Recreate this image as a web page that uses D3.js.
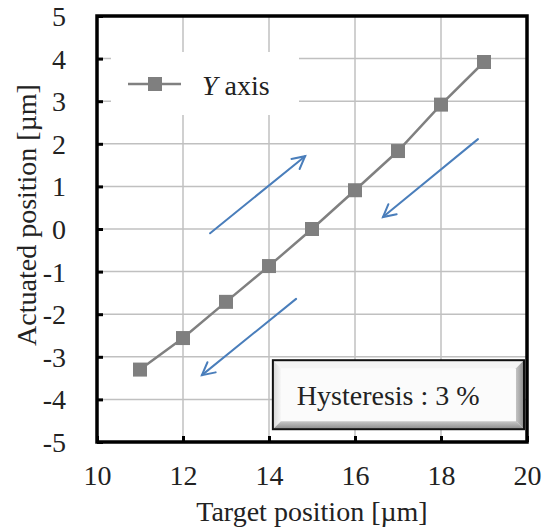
<!DOCTYPE html>
<html>
<head>
<meta charset="utf-8">
<script src="https://cdn.jsdelivr.net/npm/d3@7"></script>
<style>
  html, body { margin: 0; padding: 0; background: #fff; }
  svg { display: block; }
  svg text { font-family: "Liberation Serif", "Times New Roman", "DejaVu Serif", serif; fill: #222; }
</style>
</head>
<body>
<svg id="chart" width="542" height="532"></svg>
<script>
// Target positions (µm) and measured actuated positions (µm)
const targetPos = [11, 12, 13, 14, 15, 16, 17, 18, 19];
const actuatedPos = [-3.3, -2.56, -1.71, -0.87, 0.0, 0.91, 1.83, 2.92, 3.92];

const xTicks = [10, 12, 14, 16, 18, 20];
const yTicks = [-5, -4, -3, -2, -1, 0, 1, 2, 3, 4, 5];

const seriesName = "axis";
const seriesAxis = "Y";
const annotationText = "Hysteresis : 3 %";

// Direction arrows, in data units: [x0, y0, x1, y1]
const arrows = [
  [12.63, -0.1, 14.84, 1.71],
  [18.86, 2.11, 16.65, 0.28],
  [14.63, -1.64, 12.44, -3.43]
];

const svg = d3.select("#chart");
const plotLeft = 97, plotRight = 527, plotTop = 16, plotBottom = 442;
const fontSize = 28;

const x = d3.scaleLinear().domain([10, 20]).range([plotLeft, plotRight]);
const y = d3.scaleLinear().domain([-5, 5]).range([plotBottom, plotTop]);

// Grid
const grid = svg.append("g").attr("stroke", "#c0c0c0").attr("stroke-width", 1.5);
grid.selectAll("line.h").data(yTicks.filter(d => d > -5 && d < 5)).join("line")
  .attr("x1", plotLeft).attr("x2", plotRight)
  .attr("y1", d => y(d)).attr("y2", d => y(d));
grid.selectAll("line.v").data(xTicks.filter(d => d > 10 && d < 20)).join("line")
  .attr("y1", plotTop).attr("y2", plotBottom)
  .attr("x1", d => x(d)).attr("x2", d => x(d));

// Axes with inward ticks; labels use a plain hyphen for negatives
const fmt = d => String(d);
const yAxis = d3.axisLeft(y).tickValues(yTicks).tickSize(-6).tickPadding(31).tickFormat(fmt);
const xAxis = d3.axisBottom(x).tickValues(xTicks).tickSize(-6).tickPadding(37).tickFormat(fmt);

const gy = svg.append("g").attr("transform", `translate(${plotLeft},0)`).call(yAxis);
const gx = svg.append("g").attr("transform", `translate(0,${plotBottom})`).call(xAxis);
[gy, gx].forEach(g => {
  g.attr("font-family", null).attr("font-size", null);
  g.select(".domain").remove();
  g.selectAll(".tick line").attr("stroke", "#000").attr("stroke-width", 3);
  g.selectAll(".tick text").attr("font-size", fontSize).attr("fill", "#222");
});
gy.selectAll(".tick text").attr("x", -31).attr("dy", "0.34em");
gx.selectAll(".tick text").attr("y", 43).attr("dy", 0);

// Legend background and entry
svg.append("rect").attr("x", 111).attr("y", 52).attr("width", 188).attr("height", 63).attr("fill", "#fff");
svg.append("line").attr("x1", 128).attr("x2", 181).attr("y1", 84).attr("y2", 84)
  .attr("stroke", "#808080").attr("stroke-width", 2.5);
svg.append("rect").attr("x", 148).attr("y", 77).attr("width", 14).attr("height", 14).attr("fill", "#7f7f7f");
const lt = svg.append("text").attr("x", 202).attr("y", 95).attr("font-size", fontSize);
lt.append("tspan").attr("font-style", "italic").text(seriesAxis);
lt.append("tspan").text(" " + seriesName);

// Hysteresis bevel box
const bx0 = x(14.09), bx1 = x(19.93), by0 = y(-3.08), by1 = y(-4.7);
const bev = 8;
const defs = svg.append("defs");
const gB = defs.append("linearGradient").attr("id", "bevB").attr("x1", 0).attr("y1", 0).attr("x2", 0).attr("y2", 1);
gB.append("stop").attr("offset", 0).attr("stop-color", "#c8c8c8");
gB.append("stop").attr("offset", 1).attr("stop-color", "#8a8a8a");
const gR = defs.append("linearGradient").attr("id", "bevR").attr("x1", 0).attr("y1", 0).attr("x2", 1).attr("y2", 0);
gR.append("stop").attr("offset", 0).attr("stop-color", "#c4c4c4");
gR.append("stop").attr("offset", 1).attr("stop-color", "#8c8c8c");
const gL = defs.append("linearGradient").attr("id", "bevL").attr("x1", 0).attr("y1", 0).attr("x2", 1).attr("y2", 0);
gL.append("stop").attr("offset", 0).attr("stop-color", "#d6d6d6");
gL.append("stop").attr("offset", 1).attr("stop-color", "#f6f6f6");

const box = svg.append("g");
box.append("rect").attr("x", bx0).attr("y", by0).attr("width", bx1 - bx0).attr("height", by1 - by0).attr("fill", "#fbfbfb");
const poly = pts => pts.map(p => p.join(",")).join(" ");
box.append("polygon").attr("points", poly([[bx0, by0], [bx1, by0], [bx1 - bev, by0 + bev], [bx0 + bev, by0 + bev]])).attr("fill", "#f4f4f4");
box.append("polygon").attr("points", poly([[bx0, by0], [bx0 + bev, by0 + bev], [bx0 + bev, by1 - bev], [bx0, by1]])).attr("fill", "url(#bevL)");
box.append("polygon").attr("points", poly([[bx0, by1], [bx0 + bev, by1 - bev], [bx1 - bev, by1 - bev], [bx1, by1]])).attr("fill", "url(#bevB)");
box.append("polygon").attr("points", poly([[bx1, by0], [bx1 - bev, by0 + bev], [bx1 - bev, by1 - bev], [bx1, by1]])).attr("fill", "url(#bevR)");
box.append("rect").attr("x", bx0).attr("y", by0).attr("width", bx1 - bx0).attr("height", by1 - by0)
  .attr("fill", "none").attr("stroke", "#111").attr("stroke-width", 2);
box.append("text").attr("x", bx0 + 24).attr("y", (by0 + by1) / 2 + 10.5).attr("font-size", fontSize).text(annotationText);

// Direction arrows
const arrowColor = "#4a7ebb";
const ag = svg.append("g").attr("stroke", arrowColor).attr("stroke-width", 2).attr("fill", "none").attr("stroke-linecap", "round");
arrows.forEach(([a, b, c, d]) => {
  const X0 = x(a), Y0 = y(b), X1 = x(c), Y1 = y(d);
  ag.append("line").attr("x1", X0).attr("y1", Y0).attr("x2", X1).attr("y2", Y1);
  const ang = Math.atan2(Y1 - Y0, X1 - X0);
  const len = 14, spread = Math.PI / 6.5;
  const h1 = [X1 - len * Math.cos(ang - spread), Y1 - len * Math.sin(ang - spread)];
  const h2 = [X1 - len * Math.cos(ang + spread), Y1 - len * Math.sin(ang + spread)];
  ag.append("polyline").attr("points", poly([h1, [X1, Y1], h2]));
});

// Data series
const line = d3.line().x((d, i) => x(targetPos[i])).y(d => y(d));
svg.append("path").datum(actuatedPos).attr("d", line)
  .attr("fill", "none").attr("stroke", "#808080").attr("stroke-width", 2.5);
svg.selectAll("rect.pt").data(actuatedPos).join("rect").attr("class", "pt")
  .attr("x", (d, i) => x(targetPos[i]) - 7).attr("y", d => y(d) - 7)
  .attr("width", 14).attr("height", 14).attr("fill", "#7f7f7f");

// Frame
svg.append("rect").attr("x", plotLeft).attr("y", plotTop).attr("width", plotRight - plotLeft).attr("height", plotBottom - plotTop)
  .attr("fill", "none").attr("stroke", "#000").attr("stroke-width", 3.5);

// Axis titles
svg.append("text").attr("x", (plotLeft + plotRight) / 2).attr("y", 521).attr("text-anchor", "middle")
  .attr("font-size", fontSize).text("Target position [µm]");
svg.append("text").attr("transform", "translate(36,215) rotate(-90)")
  .attr("text-anchor", "middle").attr("font-size", fontSize).text("Actuated position [µm]");
</script>
</body>
</html>
